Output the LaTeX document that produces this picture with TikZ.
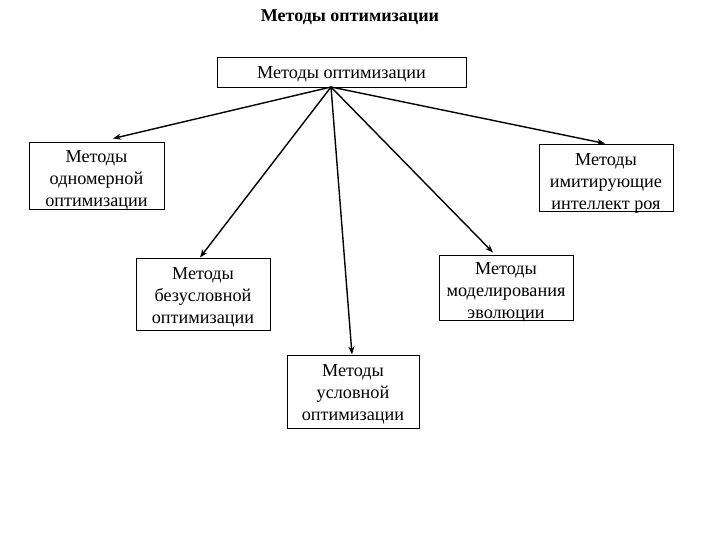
\documentclass[tikz,border=0pt]{standalone}
\usepackage{fontspec}
\setmainfont{Liberation Serif}
\usetikzlibrary{arrows.meta}
\begin{document}
\begin{tikzpicture}[x=1pt,y=-1pt,
  box/.style={draw, line width=1pt, rectangle, inner sep=0pt},
  txt/.style={align=center, inner sep=0pt, font=\fontsize{18.2}{22}\selectfont},
  conn/.style={line width=1.4pt, -{Stealth[length=8pt,width=6pt]}}]
\useasboundingbox (0,0) rectangle (720,540);
\node[font=\fontsize{18}{21}\selectfont\bfseries] (title) at (350,17) {Методы оптимизации};
\node[box, minimum width=249pt, minimum height=30pt] (top) at (341.5,73) {};
\node[txt] (topt) at ([yshift=-1pt]top.center) {Методы оптимизации};
\node[box, minimum width=135pt, minimum height=67pt] (one) at (96.5,176.5) {};
\node[txt] (onet) at ([yshift=-4pt]one.center) {Методы\\одномерной\\оптимизации};
\node[box, minimum width=134pt, minimum height=67pt] (swarm) at (606,178.5) {};
\node[txt] (swarmt) at ([yshift=-4.5pt]swarm.center) {Методы\\имитирующие\\интеллект роя};
\node[box, minimum width=134pt, minimum height=72pt] (uncon) at (203,294) {};
\node[txt] (uncont) at ([yshift=-3pt]uncon.center) {Методы\\безусловной\\оптимизации};
\node[box, minimum width=134pt, minimum height=65pt] (evo) at (506,287.5) {};
\node[txt] (evot) at ([yshift=-5pt]evo.center) {Методы\\моделирования\\эволюции};
\node[box, minimum width=132pt, minimum height=73pt] (con) at (353,391.5) {};
\node[txt] (cont) at ([yshift=-3pt]con.center) {Методы\\условной\\оптимизации};
\coordinate (hub) at (331,87);
\draw[conn] (hub) -- ([xshift=16.5pt,yshift=4pt]one.north);
\draw[conn] (hub) -- ([xshift=-1pt,yshift=1pt]swarm.north);
\draw[conn] (hub) -- ([xshift=-3pt]uncon.north);
\draw[conn] (hub) -- ([xshift=-13pt,yshift=2pt]evo.north);
\draw[conn] (hub) -- ([xshift=-1pt]con.north);
\end{tikzpicture}
\end{document}
